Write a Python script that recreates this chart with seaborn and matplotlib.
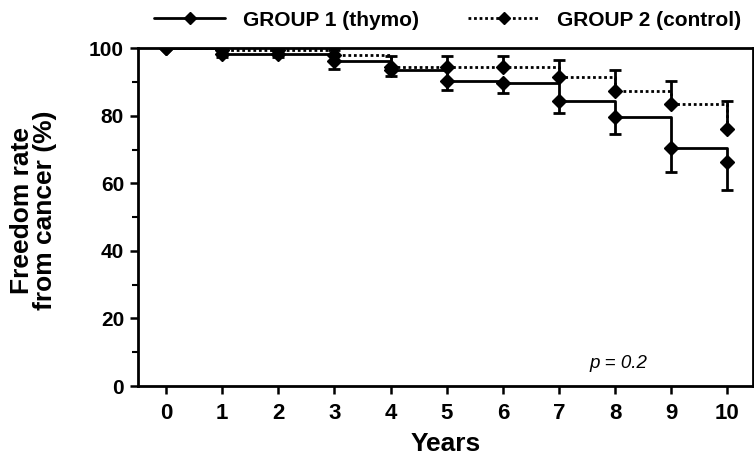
import numpy as np
import pandas as pd
import matplotlib
matplotlib.use("Agg")
import matplotlib.pyplot as plt
import seaborn as sns
from matplotlib.lines import Line2D

# datos
years = [0, 1, 2, 3, 4, 5, 6, 7, 8, 9, 10]
group1 = [100, 98.2, 98.2, 96.2, 93.5, 90.3, 89.6, 84.4, 79.5, 70.5, 66.2]
group1_low = [100, 97.5, 97.5, 93.8, 91.8, 87.6, 86.6, 80.7, 74.5, 63.4, 58.0]
group2 = [100, 99.6, 99.6, 98.0, 94.3, 94.3, 94.3, 91.4, 87.4, 83.4, 76.2]
group2_up = [100, 100, 100, 99.5, 97.6, 97.7, 97.6, 96.6, 93.5, 90.3, 84.4]
labels = ["GROUP 1 (thymo)", "GROUP 2 (control)"]

sns.set_style("ticks")
plt.rcParams["font.family"] = ["Liberation Sans", "DejaVu Sans"]
plt.rcParams["font.weight"] = "bold"
for k in ["text.color", "axes.labelcolor", "xtick.color", "ytick.color"]:
    plt.rcParams[k] = "black"

fig = plt.figure(figsize=(7.54, 4.59), dpi=100)
ax = fig.add_axes([0.183, 0.159, 0.816, 0.736])

df1 = pd.DataFrame({"year": years, "rate": group1})
df2 = pd.DataFrame({"year": years, "rate": group2})

dotted = (0, (1, 1))
sns.lineplot(data=df2, x="year", y="rate", ax=ax, color="black", lw=2,
             linestyle=dotted, drawstyle="steps-post")
sns.lineplot(data=df1, x="year", y="rate", ax=ax, color="black", lw=2,
             drawstyle="steps-post")
ax.plot(years, group2, ls="none", marker="D", ms=7.5, color="black")
ax.plot(years, group1, ls="none", marker="D", ms=7.5, color="black")

# barras de error: grupo 1 hacia abajo, grupo 2 hacia arriba
err1 = np.array(group1) - np.array(group1_low)
err2 = np.array(group2_up) - np.array(group2)
ax.errorbar(years[1:], group1[1:], yerr=[err1[1:], np.zeros(10)], fmt="none",
            ecolor="black", elinewidth=2, capsize=4.5, capthick=2)
ax.errorbar(years[1:], group2[1:], yerr=[np.zeros(10), err2[1:]], fmt="none",
            ecolor="black", elinewidth=2, capsize=4.5, capthick=2)

ax.set_xlim(-0.5, 10.46)
ax.set_ylim(0, 100)
ax.set_xticks(years)
ax.set_yticks([0, 20, 40, 60, 80, 100])
ax.set_yticks(range(10, 100, 20), minor=True)
ax.tick_params(axis="both", which="major", labelsize=15, width=1.8, length=6,
               direction="out", pad=4)
ax.tick_params(axis="x", which="major", labelsize=16, pad=6)
ax.tick_params(axis="y", which="minor", width=1.5, length=4, direction="out")
for s in ax.spines.values():
    s.set_linewidth(2)
    s.set_color("black")

ax.set_xlabel("Years", fontsize=19, fontweight="bold", labelpad=6)
ax.set_ylabel("Freedom rate\nfrom cancer (%)", fontsize=19, fontweight="bold",
              linespacing=0.95)
ax.yaxis.set_label_coords(-0.132, 0.52)
ax.text(8.06, 6.8, "p = 0.2", fontsize=13.5, style="italic", fontweight="normal",
        ha="center", va="center")

handles = [
    Line2D([], [], color="black", lw=2, marker="D", ms=6.5),
    Line2D([], [], color="black", lw=2, ls=dotted, marker="D", ms=6.5),
]
fig.legend(handles, labels, loc="center", bbox_to_anchor=(0.594, 0.956),
           ncol=2, frameon=False, handlelength=3.4,
           handletextpad=0.87, columnspacing=2.35,
           prop={"weight": "bold", "size": 15})

fig.savefig("out.png", dpi=100)
